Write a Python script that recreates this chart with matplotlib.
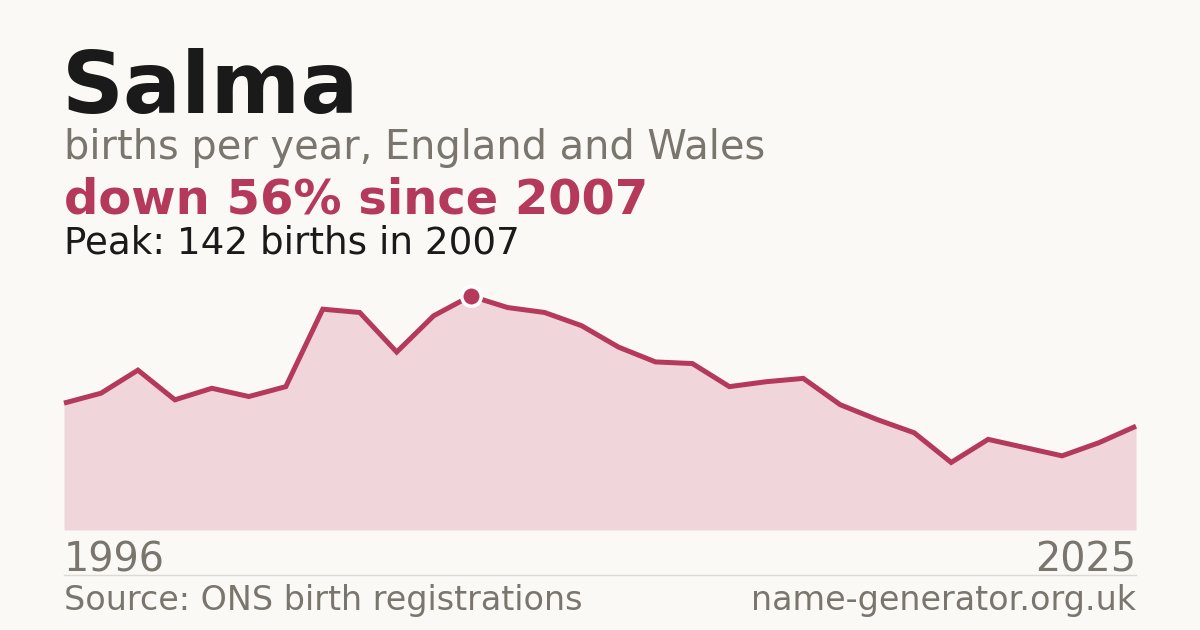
import matplotlib
matplotlib.use("Agg")
import matplotlib.pyplot as plt

# data
years = list(range(1996, 2026))
births = [77, 83, 97, 79, 86, 81, 87, 134, 132, 108,
          130, 142, 135, 132, 124, 111, 102, 101, 87, 90,
          92, 76, 67, 59, 41, 55, 50, 45, 53, 63]

name = "Salma"
subtitle = "births per year, England and Wales"
peak_year = 2007
peak_value = 142
change_text = "down 56% since 2007"
source_text = "Source: ONS birth registrations"
site_text = "name-generator.org.uk"

BG = "#faf9f5"
DARK = "#1a1a1a"
GREY = "#7a756d"
RED = "#b5395a"
FILL = "#f0d5da"

W, H = 1200, 630
fig = plt.figure(figsize=(W / 100, H / 100), dpi=100, facecolor=BG)


def fx(px):
    return px / W


def fy(py):
    return 1 - py / H


# plot area: x 64..1136, y 296..530 px
ax = fig.add_axes([fx(64), fy(530), fx(1136 - 64), (530 - 296) / H])
ax.set_facecolor(BG)
ax.fill_between(years, births, 0, color=FILL, linewidth=0)
ax.plot(years, births, color=RED, linewidth=3.6, solid_joinstyle="miter",
        solid_capstyle="butt", clip_on=False)
ax.plot([peak_year], [peak_value], marker="o", markersize=14,
        markerfacecolor=RED, markeredgecolor="white", markeredgewidth=2.5,
        clip_on=False, zorder=5)
ax.set_xlim(years[0], years[-1])
ax.set_ylim(0, peak_value)
ax.axis("off")

# header texts
fig.text(fx(62), fy(113), name, fontsize=62, fontweight="bold", color=DARK,
         va="baseline", ha="left")
fig.text(fx(64), fy(159), subtitle, fontsize=28.7, color=GREY,
         va="baseline", ha="left")
fig.text(fx(64), fy(214), change_text, fontsize=34.6, fontweight="bold",
         color=RED, va="baseline", ha="left")
fig.text(fx(64), fy(253), f"Peak: {peak_value} births in {peak_year}",
         fontsize=26.8, color=DARK, va="baseline", ha="left")

# year labels
fig.text(fx(64), fy(571), str(years[0]), fontsize=28.6, color=GREY,
         va="baseline", ha="left")
fig.text(fx(1136), fy(571), str(years[-1]), fontsize=28.6, color=GREY,
         va="baseline", ha="right")

# separator
fig.add_artist(plt.Line2D([fx(64), fx(1136)], [fy(574.5), fy(574.5)],
                          color="#dddad3", linewidth=1))

# footer
fig.text(fx(64), fy(610), source_text, fontsize=24, color=GREY,
         va="baseline", ha="left")
fig.text(fx(1136), fy(610), site_text, fontsize=24, color=GREY,
         va="baseline", ha="right")

fig.savefig("out.png", dpi=100, facecolor=BG)
